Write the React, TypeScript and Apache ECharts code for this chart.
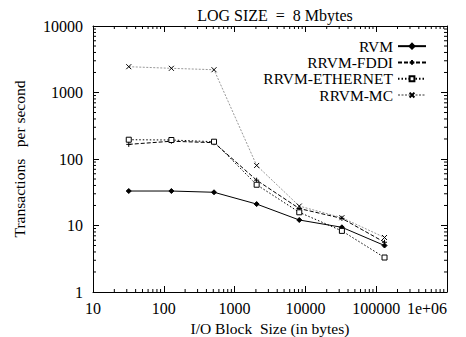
import React, { useEffect, useRef } from "react";
import * as echarts from "echarts";

const blockSizes = [32, 128, 512, 2048, 8192, 32768, 131072];
const rvm = [33, 33, 31.6, 21, 12.1, 9.4, 5.0];
const rrvmFddi = [166, 185, 176, 48, 18, 12.8, 5.6];
const rrvmEthernet = [195, 193, 182, 41, 15.8, 8.3, 3.3];
const rrvmMc = [2443, 2310, 2200, 80, 19.6, 13.1, 6.6];

const xMinorTicks: number[] = [];
[10, 100, 1000, 10000, 100000].forEach((d) => {
  for (let k = 2; k <= 9; k++) xMinorTicks.push(d * k);
});
const yMinorTicks: number[] = [];
[1, 10, 100, 1000].forEach((d) => {
  for (let k = 2; k <= 9; k++) yMinorTicks.push(d * k);
});

const FONT = "'Liberation Serif', 'DejaVu Serif', serif";

export default function App() {
  const ref = useRef<HTMLDivElement>(null);
  useEffect(() => {
    document.body.style.margin = "0";
    const chart = echarts.init(ref.current!, undefined, { renderer: "svg" });
    const axisLine = { show: true, lineStyle: { color: "#000", width: 1 } };
    const tick = { show: true, inside: true, length: 6, lineStyle: { color: "#000" } };
    const mk = (name: string, data: number[], symbol: string, lineType: any, lineColor: string, fill: string, size: number) => ({
      name,
      type: "line",
      xAxisIndex: 0,
      yAxisIndex: 0,
      data: blockSizes.map((x, i) => [x, data[i]]),
      symbol,
      symbolSize: size,
      showSymbol: true,
      lineStyle: { color: lineColor, width: 1, type: lineType },
      itemStyle: { color: fill, borderColor: "#000", borderWidth: 1 },
      z: 3,
    });
    chart.setOption({
      animation: false,
      textStyle: { fontFamily: FONT },
      title: {
        text: "LOG SIZE  =  8 Mbytes",
        left: 270,
        top: 2,
        textAlign: "center",
        textStyle: { fontFamily: FONT, fontSize: 16, fontWeight: "normal", color: "#000" },
      },
      grid: { left: 93, right: 19, top: 26, bottom: 45, containLabel: false, outerBoundsMode: "none" },
      legend: {
        orient: "vertical",
        right: 34,
        top: 33,
        align: "right",
        itemWidth: 28,
        itemHeight: 6,
        itemGap: 0,
        data: ["RVM", "RRVM-FDDI", "RRVM-ETHERNET", "RRVM-MC"],
        textStyle: { fontFamily: FONT, fontSize: 15.5, color: "#000", lineHeight: 16.3 },
      },
      xAxis: [
        {
          type: "log",
          logBase: 10,
          min: 10,
          max: 1000000,
          position: "bottom",
          axisLine,
          axisTick: tick,
          splitLine: { show: false },
          axisLabel: {
            color: "#000",
            fontFamily: FONT,
            fontSize: 16,
            margin: 8,
            alignMaxLabel: "right",
            formatter: (v: number) => {
              const r = Math.round(v);
              return r >= 1000000 ? "1e+06" : String(r);
            },
          },
          name: "I/O Block  Size (in bytes)",
          nameLocation: "middle",
          nameGap: 19,
          nameTextStyle: { fontFamily: FONT, fontSize: 15.5, color: "#000" },
        },
        {
          type: "log",
          logBase: 10,
          min: 10,
          max: 1000000,
          position: "top",
          axisLine,
          axisTick: tick,
          splitLine: { show: false },
          axisLabel: { show: false },
        },
      ],
      yAxis: [
        {
          type: "log",
          logBase: 10,
          min: 1,
          max: 10000,
          position: "left",
          axisLine,
          axisTick: tick,
          splitLine: { show: false },
          axisLabel: {
            color: "#000",
            fontFamily: FONT,
            fontSize: 16,
            margin: 10,
            formatter: (v: number) => String(Math.round(v)),
          },
          name: "Transactions   per second",
          nameLocation: "middle",
          nameGap: 66,
          nameTextStyle: { fontFamily: FONT, fontSize: 15.5, color: "#000" },
        },
        {
          type: "log",
          logBase: 10,
          min: 1,
          max: 10000,
          position: "right",
          axisLine,
          axisTick: tick,
          splitLine: { show: false },
          axisLabel: { show: false },
        },
      ],
      series: [
        mk("RVM", rvm, "diamond", "solid", "#000", "#000", 5),
        mk("RRVM-FDDI", rrvmFddi, "path://M0,5 L10,5 M5,0 L5,10", [4, 2], "#000", "#000", 5),
        mk("RRVM-ETHERNET", rrvmEthernet, "rect", [1.5, 2], "#000", "#fff", 5),
        mk("RRVM-MC", rrvmMc, "path://M0,0 L10,10 M10,0 L0,10", [2, 1.5], "#999", "#000", 5),
        {
          type: "custom",
          name: "xminor",
          silent: true,
          xAxisIndex: 0,
          yAxisIndex: 0,
          data: xMinorTicks.map((v) => [v, 1]),
          renderItem: (params: any, api: any) => {
            const v = api.value(0);
            const b = api.coord([v, 1]);
            const t = api.coord([v, 10000]);
            return {
              type: "group",
              children: [
                { type: "line", shape: { x1: b[0], y1: b[1], x2: b[0], y2: b[1] - 3 }, style: { stroke: "#000", lineWidth: 1 } },
                { type: "line", shape: { x1: t[0], y1: t[1], x2: t[0], y2: t[1] + 3 }, style: { stroke: "#000", lineWidth: 1 } },
              ],
            };
          },
        },
        {
          type: "custom",
          name: "yminor",
          silent: true,
          xAxisIndex: 0,
          yAxisIndex: 0,
          data: yMinorTicks.map((v) => [10, v]),
          renderItem: (params: any, api: any) => {
            const v = api.value(1);
            const l = api.coord([10, v]);
            const r = api.coord([1000000, v]);
            return {
              type: "group",
              children: [
                { type: "line", shape: { x1: l[0], y1: l[1], x2: l[0] + 3, y2: l[1] }, style: { stroke: "#000", lineWidth: 1 } },
                { type: "line", shape: { x1: r[0], y1: r[1], x2: r[0] - 3, y2: r[1] }, style: { stroke: "#000", lineWidth: 1 } },
              ],
            };
          },
        },
      ],
    });
    return () => chart.dispose();
  }, []);
  return <div ref={ref} style={{ width: 466, height: 337 }} />;
}
